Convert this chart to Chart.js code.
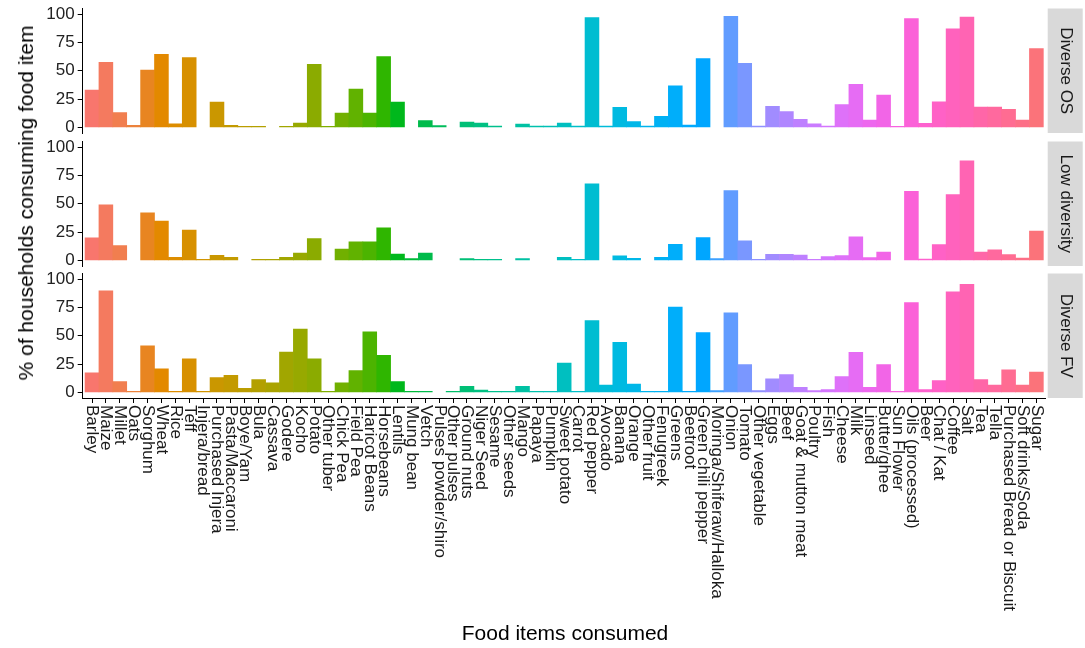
<!DOCTYPE html>
<html>
<head>
<meta charset="utf-8">
<script src="https://cdn.jsdelivr.net/npm/chart.js@4"></script>
<style>
  body { margin: 0; background: #fff; }
  #wrap { position: relative; width: 1085px; height: 648px; overflow: hidden; background: #fff;
          font-family: "Liberation Sans", Arial, sans-serif; color: #000; }
  canvas { position: absolute; left: 0; }
  .title { position: absolute; font-size: 21px; white-space: nowrap; }
  #ytitle { left: 26px; top: 203px; transform: translate(-50%, -50%) rotate(-90deg); }
  #xtitle { left: 565px; top: 633px; transform: translate(-50%, -50%); }
</style>
</head>
<body>
<div id="wrap">
  <canvas id="panel1" width="1085" height="141" style="top:0px"></canvas>
  <canvas id="panel2" width="1085" height="141" style="top:132.5px"></canvas>
  <canvas id="panel3" width="1085" height="383" style="top:265px"></canvas>
  <div class="title" id="ytitle">% of households consuming food item</div>
  <div class="title" id="xtitle">Food items consumed</div>
</div>
<script>
const foodItems = ['Barley', 'Maize', 'Millet', 'Oats', 'Sorghum', 'Wheat', 'Rice', 'Teff',
  'Injera/bread', 'Purchased Injera', 'Pasta/Maccaroni', 'Boye/Yam', 'Bula', 'Cassava', 'Godere',
  'Kocho', 'Potato', 'Other tuber', 'Chick Pea', 'Field Pea', 'Haricot Beans', 'Horsebeans',
  'Lentils', 'Mung bean', 'Vetch', 'Pulses powder/shiro', 'Other pulses', 'Ground nuts',
  'Niger Seed', 'Sesame', 'Other seeds', 'Mango', 'Papaya', 'Pumpkin', 'Sweet potato', 'Carrot',
  'Red pepper', 'Avocado', 'Banana', 'Orange', 'Other fruit', 'Fenugreek', 'Greens', 'Beetroot',
  'Green chili pepper', 'Moringa/Shiferaw/Halloka', 'Onion', 'Tomato', 'Other vegetable', 'Eggs',
  'Beef', 'Goat & mutton meat', 'Poultry', 'Fish', 'Cheese', 'Milk', 'Linseed', 'Butter/ghee',
  'Sun Flower', 'Oils (processed)', 'Beer', 'Chat / Kat', 'Coffee', 'Salt', 'Tea', 'Tella',
  'Purchased Bread or Biscuit', 'Soft drinks/Soda', 'Sugar'];

const diverseOS = [33, 57.5, 13, 1.8, 50.7, 64.5, 3, 61.6,
  null, 22.3, 1.8, 0.9, 0.9, null, 0.9,
  3.8, 55.7, 0.9, 12.6, 33.7, 12.6, 62.5,
  22.3, null, 5.9, 1.5, null, 4.7,
  3.8, 1.2, null, 2.9, 1.2, 1.2, 3.8, 1.2,
  97, 1.2, 17.6, 5, 1.2, 9.7, 36.7, 2,
  60.7, null, 98, 56.6, 1.2, 18.5,
  14, 7, 3.2, 1.2, 20, 38, 6.5, 28.5,
  1, 96, 3.5, 22.5, 87, 97.5, 18, 18,
  16, 6.5, 69.5];

const lowDiversity = [19.9, 49, 13, null, 42, 34.7, 2.7, 26.7,
  0.8, 4.5, 2.7, null, 0.8, 0.8, 2.7,
  6.5, 19.3, null, 10, 16.3, 16.3, 28.8,
  5.6, 1.5, 6.5, null, null, 1.5,
  0.8, 0.8, null, 1.5, null, null, 2.7, 0.9,
  67.7, null, 3.9, 1.8, null, 2.7, 14.2, null,
  20.2, 1.5, 61.7, 17.2, 0.9, 5.3,
  5.3, 4.7, 0.8, 3.3, 4.2, 20.8, 2.4, 7.4,
  null, 61, 1.2, 14, 58, 88, 7.4, 9.2,
  5, 2, 25.8];

const diverseFV = [17.2, 89.6, 9.5, 0.8, 41.2, 20.8, 0.8, 29.7,
  0.8, 13, 15, 3.6, 11.3, 8.3, 35.6,
  55.8, 29.7, 0.8, 8.3, 19.3, 53.4, 32.6,
  9.5, 0.8, 0.8, null, 0.8, 5.3,
  2, 0.8, 0.8, 5.3, 0.8, 0.8, 25.8, 0.8,
  63.5, 6.5, 44.2, 7.4, 0.8, 0.8, 75.4, 0.8,
  52.8, 1.5, 70.3, 24.6, 1.5, 11.9,
  15.7, 4.5, 1.5, 2.4, 14, 35.3, 4.5, 24.6,
  0.8, 79.2, 2.4, 10.4, 88.7, 95.5, 11.3, 6.5,
  19.9, 6.5, 17.8];

const yTickValues = [0, 25, 50, 75, 100];
const panelNames = ['Diverse OS', 'Low diversity', 'Diverse FV'];

const FONT = '"Liberation Sans", Arial, sans-serif';
Chart.defaults.font.family = FONT;

// ggplot-style hue palette (hcl with c = 100, l = 65)
function hclHex(h, c, l) {
  const rad = h * Math.PI / 180;
  const U = c * Math.cos(rad), V = c * Math.sin(rad);
  const Xn = 95.047, Yn = 100, Zn = 108.883;
  const den = Xn + 15 * Yn + 3 * Zn;
  const un = 4 * Xn / den, vn = 9 * Yn / den;
  const Y = l > 7.999592 ? Yn * Math.pow((l + 16) / 116, 3) : Yn * l / 903.3;
  const u = U / (13 * l) + un, v = V / (13 * l) + vn;
  const X = 9 * Y * u / (4 * v);
  const Z = -X / 3 - 5 * Y + 3 * Y / v;
  const gam = t => t <= 0.0031308 ? 12.92 * t : 1.055 * Math.pow(t, 1 / 2.4) - 0.055;
  const rgb = [
    3.240479 * X - 1.537150 * Y - 0.498535 * Z,
    -0.969256 * X + 1.875992 * Y + 0.041556 * Z,
    0.055648 * X - 0.204043 * Y + 1.057311 * Z
  ].map(t => Math.round(Math.min(1, Math.max(0, gam(t / 100))) * 255));
  return '#' + rgb.map(t => t.toString(16).padStart(2, '0')).join('');
}
const barColors = foodItems.map((_, i) => hclHex(15 + 360 * i / foodItems.length, 100, 65));

const stripPlugin = {
  id: 'strip',
  afterDraw(chart, args, opts) {
    const ctx = chart.ctx, a = chart.chartArea;
    const x0 = a.right + 2, w = 35;
    ctx.save();
    ctx.fillStyle = '#d9d9d9';
    ctx.fillRect(x0, a.top, w, a.bottom - a.top);
    ctx.translate(x0 + w / 2, (a.top + a.bottom) / 2);
    ctx.rotate(Math.PI / 2);
    ctx.fillStyle = '#1a1a1a';
    ctx.font = '17px ' + FONT;
    ctx.textAlign = 'center';
    ctx.textBaseline = 'middle';
    ctx.fillText(opts.label, 0, 0);
    ctx.restore();
  }
};

const xLabelPlugin = {
  id: 'xlabels',
  afterDraw(chart, args, opts) {
    if (!opts.show) return;
    const ctx = chart.ctx, xs = chart.scales.x;
    ctx.save();
    ctx.fillStyle = '#1a1a1a';
    ctx.font = '17px ' + FONT;
    ctx.textAlign = 'left';
    ctx.textBaseline = 'middle';
    foodItems.forEach((name, i) => {
      ctx.save();
      ctx.translate(xs.getPixelForValue(i), chart.chartArea.bottom + 7);
      ctx.rotate(Math.PI / 2);
      ctx.fillText(name, 0, 0);
      ctx.restore();
    });
    ctx.restore();
  }
};

function makePanel(canvasId, values, label, isBottom) {
  return new Chart(document.getElementById(canvasId), {
    type: 'bar',
    data: {
      datasets: [{
        data: values.map((v, i) => ({ x: i, y: v })),
        backgroundColor: barColors,
        borderWidth: 0,
        barPercentage: 1,
        categoryPercentage: 1
      }]
    },
    options: {
      responsive: false,
      animation: false,
      layout: { padding: { top: 8.5, bottom: isBottom ? 0 : 8, left: 0, right: 39.3 } },
      plugins: {
        legend: { display: false },
        tooltip: { enabled: false },
        strip: { label: label },
        xlabels: { show: isBottom }
      },
      scales: {
        x: {
          type: 'linear',
          min: -0.67,
          max: 68.67,
          offset: false,
          display: isBottom,
          afterBuildTicks: s => { s.ticks = foodItems.map((_, i) => ({ value: i })); },
          afterFit: s => { s.height = isBottom ? 250 : 0; },
          ticks: { display: false },
          grid: { offset: false, drawOnChartArea: false, drawTicks: true, tickLength: 5, tickColor: '#000', tickWidth: 1 },
          border: { display: true, color: '#000', width: 1 }
        },
        y: {
          min: -5,
          max: 105,
          afterBuildTicks: s => { s.ticks = yTickValues.map(v => ({ value: v })); },
          afterFit: s => { s.width = 82.7; s.paddingTop = 0; s.paddingBottom = 0; },
          ticks: { font: { size: 17 }, color: '#222', padding: 3 },
          grid: { drawOnChartArea: false, tickLength: 5, tickColor: '#000', tickWidth: 1 },
          border: { color: '#000', width: 1 }
        }
      }
    },
    plugins: [stripPlugin, xLabelPlugin]
  });
}

makePanel('panel1', diverseOS, panelNames[0], false);
makePanel('panel2', lowDiversity, panelNames[1], false);
makePanel('panel3', diverseFV, panelNames[2], true);
</script>
</body>
</html>
